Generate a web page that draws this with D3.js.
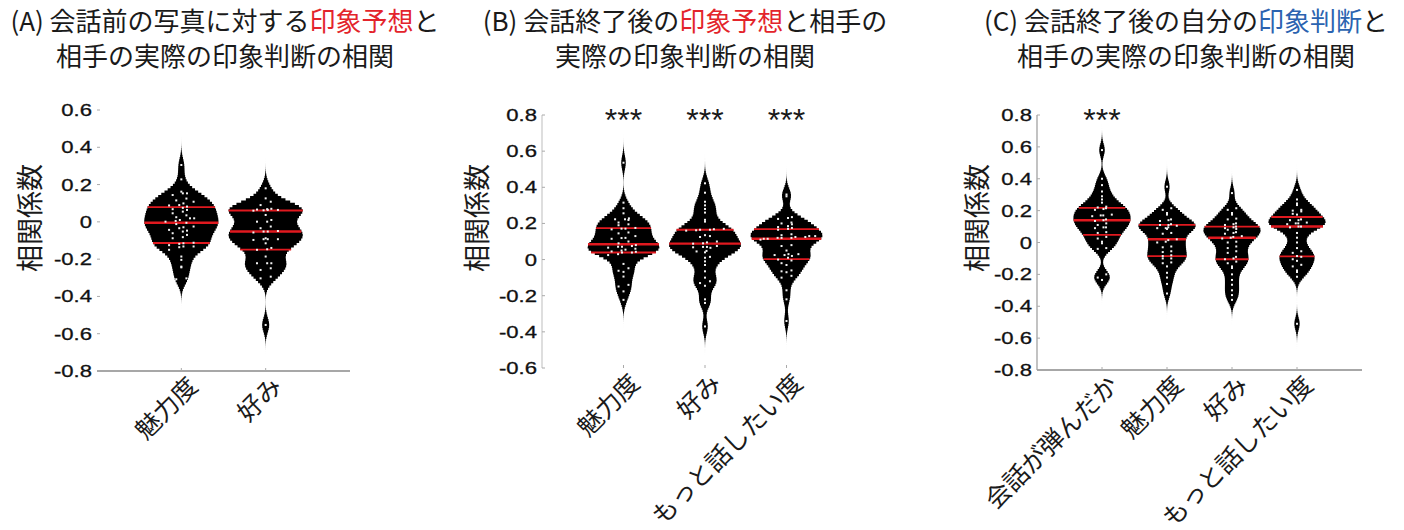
<!DOCTYPE html>
<html><head><meta charset="utf-8">
<script src="https://cdn.jsdelivr.net/npm/d3@7"></script>
<style>html,body{margin:0;background:#fff;overflow:hidden}</style>
</head><body><svg id="fig" width="1404" height="530"></svg>
<script>
// ---- categories ----
const catsA = ["魅力度", "好み"];
const catsB = ["魅力度", "好み", "もっと話したい度"];
const catsC = ["会話が弾んだか", "魅力度", "好み", "もっと話したい度"];

// ---- per-pair correlation coefficients ----
const A_attr = [0.305,0.228,0.162,0.153,0.153,0.144,0.125,0.115,0.108,0.099,0.090,0.088,0.082,0.075,0.068,0.064,0.055,0.046,0.035,0.025,0.019,0.019,0.010,0.005,0.001,-0.005,-0.012,-0.025,-0.029,-0.034,-0.043,-0.047,-0.052,-0.061,-0.070,-0.082,-0.088,-0.112,-0.115,-0.118,-0.125,-0.132,-0.132,-0.136,-0.150,-0.186,-0.204,-0.240,-0.244,-0.303,-0.308];
const A_like = [0.180,0.126,0.108,0.090,0.070,0.068,0.066,0.064,0.064,0.062,0.060,0.037,0.010,0.001,0.001,-0.025,-0.034,-0.049,-0.052,-0.052,-0.057,-0.088,-0.093,-0.093,-0.093,-0.097,-0.115,-0.140,-0.147,-0.150,-0.186,-0.222,-0.222,-0.222,-0.249,-0.258,-0.294,-0.303,-0.553];

const B_attr = [0.536,0.315,0.284,0.256,0.228,0.223,0.223,0.219,0.205,0.195,0.190,0.175,0.171,0.171,0.167,0.150,0.145,0.130,0.120,0.119,0.115,0.100,0.090,0.080,0.075,0.071,0.071,0.066,0.060,0.055,0.050,0.045,0.043,0.039,0.039,0.030,0.025,-0.024,-0.048,-0.062,-0.068,-0.094,-0.140,-0.149,-0.176,-0.223];
const B_like = [0.422,0.370,0.320,0.300,0.280,0.260,0.220,0.210,0.170,0.168,0.165,0.165,0.162,0.160,0.135,0.130,0.125,0.100,0.095,0.090,0.088,0.075,0.070,0.070,0.068,0.065,0.048,0.045,0.040,0.015,0.010,-0.010,-0.030,-0.065,-0.100,-0.120,-0.130,-0.145,-0.220,-0.240,-0.370];
const B_more = [0.360,0.350,0.235,0.230,0.225,0.205,0.200,0.195,0.185,0.180,0.175,0.170,0.165,0.140,0.135,0.130,0.130,0.125,0.125,0.120,0.120,0.120,0.115,0.115,0.110,0.080,0.075,0.050,0.030,0.030,0.025,0.025,0.020,0.010,0.000,-0.005,-0.020,-0.030,-0.060,-0.065,-0.070,-0.090,-0.100,-0.170,-0.220,-0.340];

const C_talk = [0.580,0.400,0.360,0.320,0.290,0.270,0.250,0.225,0.220,0.215,0.210,0.205,0.175,0.170,0.170,0.165,0.145,0.140,0.135,0.120,0.110,0.095,0.095,0.090,0.065,0.060,0.035,0.025,0.005,-0.005,-0.035,-0.040,-0.200,-0.220,-0.235];
const C_attr = [0.350,0.215,0.205,0.185,0.175,0.145,0.140,0.135,0.115,0.110,0.110,0.105,0.095,0.090,0.090,0.085,0.060,0.055,0.020,0.015,0.005,0.000,-0.025,-0.030,-0.055,-0.060,-0.080,-0.085,-0.100,-0.100,-0.125,-0.130,-0.150,-0.190,-0.220,-0.260,-0.320];
const C_like = [0.310,0.215,0.205,0.185,0.175,0.150,0.145,0.120,0.115,0.110,0.100,0.095,0.090,0.085,0.080,0.065,0.060,0.055,0.040,0.035,0.030,0.025,0.005,0.000,-0.025,-0.035,-0.055,-0.065,-0.090,-0.100,-0.105,-0.120,-0.130,-0.150,-0.160,-0.200,-0.235,-0.265,-0.300,-0.330,-0.360];
const C_more = [0.330,0.270,0.245,0.235,0.205,0.200,0.195,0.180,0.175,0.145,0.140,0.140,0.125,0.120,0.120,0.115,0.100,0.100,0.095,0.060,0.030,0.000,-0.035,-0.055,-0.065,-0.085,-0.090,-0.105,-0.115,-0.140,-0.150,-0.175,-0.185,-0.215,-0.510];

// ---- significance marks ----
const sigA = ["", ""];
const sigB = ["***", "***", "***"];
const sigC = ["***", "", "", ""];

// ---- tick values ----
const ticksA = [-0.8,-0.6,-0.4,-0.2,0,0.2,0.4,0.6];
const ticksB = [-0.6,-0.4,-0.2,0,0.2,0.4,0.6,0.8];
const ticksC = [-0.8,-0.6,-0.4,-0.2,0,0.2,0.4,0.6,0.8];

// ---- titles (text, colour key) ----
const titleA = [[["(A) 会話前の写真に対する","k"],["印象予想","r"],["と","k"]], [["相手の実際の印象判断の相関","k"]]];
const titleB = [[["(B) 会話終了後の","k"],["印象予想","r"],["と相手の","k"]], [["実際の印象判断の相関","k"]]];
const titleC = [[["(C) 会話終了後の自分の","k"],["印象判断","b"],["と","k"]], [["相手の実際の印象判断の相関","k"]]];
const yLabel = "相関係数";

const colors = {k: "#1a1a1a", r: "#e3242b", b: "#2b63b0"};
const CJK = "'Noto Sans CJK JP', 'Noto Sans', sans-serif";
const LAT = "'Liberation Sans', Arial, sans-serif";

const svg = d3.select("#fig");

const panels = [
  {cats: catsA, series: [A_attr, A_like], sig: sigA, ticks: ticksA, dom: [-0.8, 0.6],
   x0: 97, x1: 350, yT: 110, yB: 371, yLine: false, xLine: true, labX: 28, title: titleA, titleX: 225},
  {cats: catsB, series: [B_attr, B_like, B_more], sig: sigB, ticks: ticksB, dom: [-0.6, 0.8],
   x0: 542, x1: 868, yT: 115, yB: 368, yLine: true, xLine: false, labX: 475, title: titleB, titleX: 685},
  {cats: catsC, series: [C_talk, C_attr, C_like, C_more], sig: sigC, ticks: ticksC, dom: [-0.8, 0.8],
   x0: 1037, x1: 1362, yT: 115, yB: 370, yLine: true, xLine: true, labX: 975, title: titleC, titleX: 1186}
];

const bw = 0.039, cell = 0.012;

// smoothed, stepped density profile
function profile(vals) {
  const lo = d3.min(vals) - 0.16, hi = d3.max(vals) + 0.16;
  const n = Math.ceil((hi - lo) / cell);
  const bins = d3.range(n).map(i => {
    const y0 = lo + i * cell, y1 = y0 + cell, ym = (y0 + y1) / 2;
    return {y0, y1, d: d3.sum(vals, v => Math.exp(-0.5 * ((ym - v) / bw) ** 2))};
  });
  const m = d3.max(bins, b => b.d);
  bins.forEach(b => b.w = b.d / m);
  return bins;
}
function widthAt(bins, v) {
  const b = bins.find(b => v >= b.y0 && v < b.y1);
  return b ? b.w : 0;
}
function fmt(t) { return t === 0 ? "0" : (t < 0 ? "-" : "") + d3.format(".1f")(Math.abs(t)); }

panels.forEach(p => {
  const g = svg.append("g");
  const x = d3.scaleLinear().domain([0, p.cats.length + 1]).range([p.x0, p.x1]);
  const y = d3.scaleLinear().domain(p.dom).range([p.yB, p.yT]);
  const stepPx = x(1) - x(0);
  const hw = stepPx * 0.44;

  // title
  p.title.forEach((line, i) => {
    const t = g.append("text").attr("x", p.titleX).attr("y", 31 + i * 35)
      .attr("text-anchor", "middle").style("font-family", CJK).style("font-size", "26px");
    line.forEach(seg => t.append("tspan").text(seg[0]).attr("fill", colors[seg[1]]));
  });

  // axes
  if (p.yLine) g.append("line").attr("x1", p.x0).attr("x2", p.x0).attr("y1", y(p.dom[1])).attr("y2", y(p.dom[0]))
      .attr("stroke", p.xLine ? "#9a9a9a" : "#c8c8c8").attr("stroke-width", 1.2);
  if (p.xLine) g.append("line").attr("x1", p.x0).attr("x2", p.x1).attr("y1", y(p.dom[0])).attr("y2", y(p.dom[0]))
      .attr("stroke", "#8a8a8a").attr("stroke-width", 1.6);

  p.ticks.forEach(t => {
    g.append("line").attr("x1", p.x0).attr("x2", p.x0 + 3).attr("y1", y(t)).attr("y2", y(t))
      .attr("stroke", "#aaa").attr("stroke-width", 1);
    g.append("text").text(fmt(t))
      .attr("transform", `translate(${p.x0 - 5},${y(t)}) scale(1.3,1)`)
      .attr("text-anchor", "end").attr("dominant-baseline", "central")
      .attr("fill", "#111").attr("stroke", "#111").attr("stroke-width", 0.3)
      .style("font-family", LAT).style("font-size", "17px");
  });

  g.append("text").text(yLabel)
    .attr("transform", `translate(${p.labX},${218}) rotate(-90)`)
    .attr("text-anchor", "middle").attr("dominant-baseline", "central")
    .attr("fill", "#1a1a1a").style("font-family", CJK).style("font-size", "27px");

  p.cats.forEach((c, i) => {
    const cx = x(i + 1);
    g.append("line").attr("x1", cx).attr("x2", cx).attr("y1", y(p.dom[0])).attr("y2", y(p.dom[0]) - 3)
      .attr("stroke", "#aaa").attr("stroke-width", 1);
    g.append("text").text(c)
      .attr("transform", `translate(${cx + 10},${y(p.dom[0]) + 9}) rotate(-45)`)
      .attr("text-anchor", "end").attr("dominant-baseline", "central")
      .attr("fill", "#1a1a1a").style("font-family", CJK).style("font-size", "25px");

    const vals = p.series[i];
    const bins = profile(vals);
    const pts = bins.flatMap(b => [{v: b.y0, w: b.w}, {v: b.y1, w: b.w}]);
    const area = d3.area().y(d => y(d.v)).x0(d => cx - d.w * hw).x1(d => cx + d.w * hw);
    g.append("path").datum(pts).attr("d", area).attr("fill", "#000");

    // quartile lines
    const sorted = vals.slice().sort(d3.ascending);
    [0.25, 0.5, 0.75].forEach(q => {
      const qv = d3.quantile(sorted, q);
      const w = widthAt(bins, qv) * hw;
      g.append("line").attr("x1", cx - w).attr("x2", cx + w).attr("y1", y(qv)).attr("y2", y(qv))
        .attr("stroke", "#e0191f").attr("stroke-width", q === 0.5 ? 2.4 : 1.8);
    });

    // data points, spread horizontally within value bins
    const groups = d3.groups(sorted, v => Math.floor(v / 0.022));
    groups.forEach(([, gv]) => {
      const k = gv.length, sp = stepPx * 0.085;
      gv.forEach((v, j) => {
        let off = (j - (k - 1) / 2) * sp + ((j % 2) ? 1.5 : -1.5) * (k > 1 ? 1 : 0);
        const lim = widthAt(bins, v) * hw * 0.8;
        off = Math.max(-lim, Math.min(lim, off));
        g.append("rect").attr("x", cx + off - 1).attr("y", y(v) - 1).attr("width", 2).attr("height", 2)
          .attr("fill", "#f2f2f2");
      });
    });

    if (p.sig[i]) g.append("text").text(p.sig[i]).attr("x", cx).attr("y", 131)
      .attr("text-anchor", "middle").attr("fill", "#1a1a1a")
      .style("font-family", LAT).style("font-size", "32px");
  });
});
</script></body></html>
